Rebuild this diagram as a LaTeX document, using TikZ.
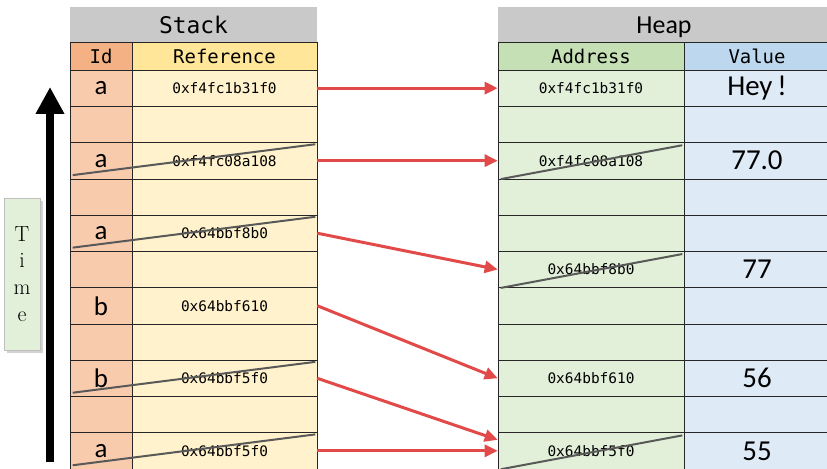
\documentclass[tikz,border=0pt]{standalone}
\usepackage{fontspec}
\usepackage{xcolor}
\usepackage{tikz}
\usetikzlibrary{arrows.meta, positioning, shadows}
\newfontfamily\codefont{DejaVu Sans Mono}
\newfontfamily\calfont{Carlito}
\definecolor{titlegray}{HTML}{C9C9C9}
\definecolor{idhead}{HTML}{F4B183}
\definecolor{idfill}{HTML}{F8CBAD}
\definecolor{refhead}{HTML}{FFE699}
\definecolor{reffill}{HTML}{FFF2CC}
\definecolor{addrhead}{HTML}{C5E0B4}
\definecolor{addrfill}{HTML}{E2F0D9}
\definecolor{valhead}{HTML}{BDD7EE}
\definecolor{valfill}{HTML}{DEEBF7}
\definecolor{ptrred}{HTML}{E24A4A}
\tikzstyle{cell}     = [rectangle, draw=black!85, line width=0.6pt, inner sep=0pt,
                        minimum height=36.27bp, anchor=center]
\tikzstyle{title}    = [rectangle, fill=titlegray, inner sep=0pt, minimum height=35bp, text depth=0pt]
\tikzstyle{head}     = [cell, minimum height=28bp, font=\codefont\fontsize{19}{19}\selectfont]
\tikzstyle{idcell}   = [cell, fill=idfill, minimum width=62bp, font=\calfont\fontsize{27}{27}\selectfont]
\tikzstyle{refcell}  = [cell, fill=reffill, minimum width=185bp, font=\codefont\fontsize{14.5}{14.5}\selectfont]
\tikzstyle{addrcell} = [cell, fill=addrfill, minimum width=186bp, font=\codefont\fontsize{14.5}{14.5}\selectfont]
\tikzstyle{valcell}  = [cell, fill=valfill, minimum width=146bp, font=\calfont\fontsize{29}{29}\selectfont]
\tikzstyle{strike}   = [draw=black!65, line width=2bp]
\tikzstyle{pointer}  = [-{Triangle[length=13bp, width=12bp]}, line width=3bp, ptrred]

\begin{document}
\begin{tikzpicture}[x=1bp, y=-1bp]
  \useasboundingbox (0,0) rectangle (827,469);

  % Stack table
  \node[title, minimum width=247bp, font=\codefont\fontsize{23}{23}\selectfont] (stack) at (193.5,25) {Stack};
  \node[head, fill=idhead, minimum width=62bp] (idhead) at (101,56) {Id};
  \node[head, fill=refhead, minimum width=185bp] (refhead) at (224.5,56) {Reference};
  \foreach \i/\id/\addr in {0/a/0xf4fc1b31f0, 1/{}/{}, 2/a/0xf4fc08a108, 3/{}/{},
                            4/a/0x64bbf8b0, 5/{}/{}, 6/b/0x64bbf610, 7/{}/{},
                            8/b/0x64bbf5f0, 9/{}/{}, 10/a/0x64bbf5f0} {
    \node[idcell]  (s-id-\i)  at (101, 70+36.27*\i+18.135) {\id};
    \node[refcell] (s-ref-\i) at (224.5, 70+36.27*\i+18.135) {\addr};
  }

  % Heap table
  \node[title, minimum width=332bp, font=\calfont\fontsize{26}{26}\selectfont] (heap) at (664,25) {Heap};
  \node[head, fill=addrhead, minimum width=186bp] (addrhead) at (591,56) {Address};
  \node[head, fill=valhead, minimum width=146bp] (valhead) at (757,56) {Value};
  \foreach \i/\addr/\val in {0/0xf4fc1b31f0/Hey\,!, 1/{}/{}, 2/0xf4fc08a108/77.0, 3/{}/{},
                             4/{}/{}, 5/0x64bbf8b0/77, 6/{}/{}, 7/{}/{},
                             8/0x64bbf610/56, 9/{}/{}, 10/0x64bbf5f0/55} {
    \node[addrcell] (h-addr-\i) at (591, 70+36.27*\i+18.135) {\addr};
    \node[valcell]  (h-val-\i)  at (757, 70+36.27*\i+18.135) {\val};
  }

  % Freed entries
  \foreach \i in {2,4,8,10}
    \draw[strike] ([xshift=3bp, yshift=4bp]s-id-\i.south west) -- ([xshift=-2bp, yshift=-2bp]s-ref-\i.north east);
  \foreach \i in {2,5,10}
    \draw[strike] ([xshift=3bp]h-addr-\i.south west) -- ([xshift=-2bp, yshift=-3bp]h-addr-\i.north east);

  % References
  \draw[pointer] (s-ref-0.east) -- (h-addr-0.west);
  \draw[pointer] (s-ref-2.east) -- (h-addr-2.west);
  \draw[pointer] (s-ref-4.east) -- (h-addr-5.west);
  \draw[pointer] (s-ref-6.east) -- (h-addr-8.west);
  \draw[pointer] (s-ref-8.east) -- ([yshift=11bp]h-addr-10.west);
  \draw[pointer] (s-ref-10.east) -- (h-addr-10.west);

  % Time axis
  \coordinate (t-start) at (50,462);
  \coordinate (t-end) at (50,87);
  \draw[-{Triangle[length=27bp, width=27bp]}, line width=8bp] (t-start) -- (t-end);
  \node[rectangle, draw=black!25, fill=addrfill, minimum width=36bp, minimum height=152bp,
        drop shadow={shadow xshift=3bp, shadow yshift=-3bp, opacity=0.35},
        align=center, font=\fontsize{22}{27}\selectfont] (time) at (22,274) {T\\i\\m\\e};
\end{tikzpicture}
\end{document}
